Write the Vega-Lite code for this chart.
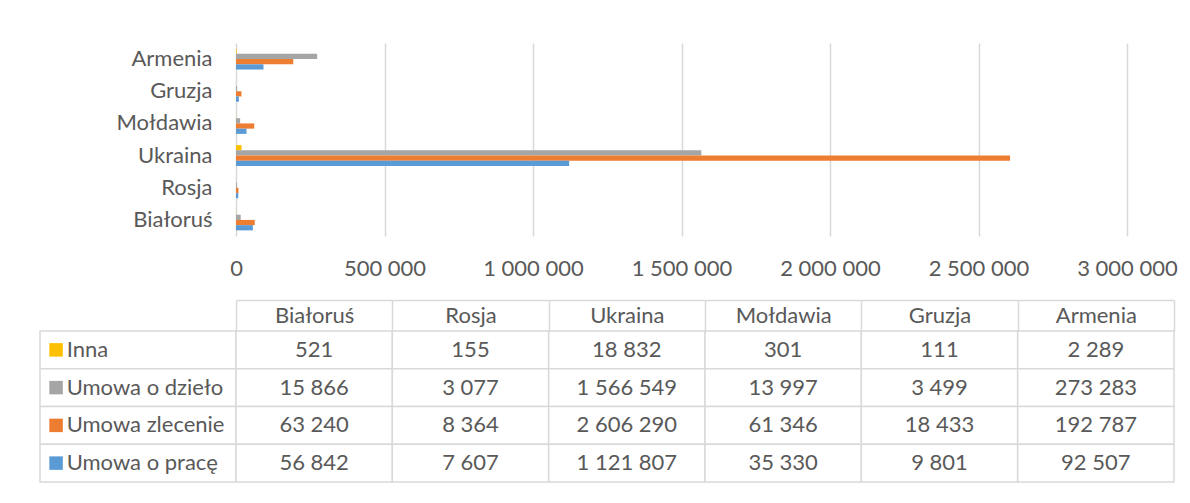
{
  "$schema": "https://vega.github.io/schema/vega-lite/v6.json",
  "padding": {"left": 39, "top": 43, "right": 10, "bottom": 10},
  "background": "white",
  "datasets": {
    "dane": [
      {"kraj": "Białoruś", "typ": "Inna", "liczba": 521},
      {"kraj": "Białoruś", "typ": "Umowa o dzieło", "liczba": 15866},
      {"kraj": "Białoruś", "typ": "Umowa zlecenie", "liczba": 63240},
      {"kraj": "Białoruś", "typ": "Umowa o pracę", "liczba": 56842},
      {"kraj": "Rosja", "typ": "Inna", "liczba": 155},
      {"kraj": "Rosja", "typ": "Umowa o dzieło", "liczba": 3077},
      {"kraj": "Rosja", "typ": "Umowa zlecenie", "liczba": 8364},
      {"kraj": "Rosja", "typ": "Umowa o pracę", "liczba": 7607},
      {"kraj": "Ukraina", "typ": "Inna", "liczba": 18832},
      {"kraj": "Ukraina", "typ": "Umowa o dzieło", "liczba": 1566549},
      {"kraj": "Ukraina", "typ": "Umowa zlecenie", "liczba": 2606290},
      {"kraj": "Ukraina", "typ": "Umowa o pracę", "liczba": 1121807},
      {"kraj": "Mołdawia", "typ": "Inna", "liczba": 301},
      {"kraj": "Mołdawia", "typ": "Umowa o dzieło", "liczba": 13997},
      {"kraj": "Mołdawia", "typ": "Umowa zlecenie", "liczba": 61346},
      {"kraj": "Mołdawia", "typ": "Umowa o pracę", "liczba": 35330},
      {"kraj": "Gruzja", "typ": "Inna", "liczba": 111},
      {"kraj": "Gruzja", "typ": "Umowa o dzieło", "liczba": 3499},
      {"kraj": "Gruzja", "typ": "Umowa zlecenie", "liczba": 18433},
      {"kraj": "Gruzja", "typ": "Umowa o pracę", "liczba": 9801},
      {"kraj": "Armenia", "typ": "Inna", "liczba": 2289},
      {"kraj": "Armenia", "typ": "Umowa o dzieło", "liczba": 273283},
      {"kraj": "Armenia", "typ": "Umowa zlecenie", "liczba": 192787},
      {"kraj": "Armenia", "typ": "Umowa o pracę", "liczba": 92507}
    ]
  },
  "columns": 2,
  "spacing": {"row": 95, "column": 0},
  "bounds": "flush",
  "align": "each",
  "concat": [
    {"data": {"values": [{}]}, "mark": {"type": "point", "opacity": 0}, "width": 196, "height": 193},
    {
      "data": {"name": "dane"},
      "width": 891,
      "height": 193,
      "mark": {"type": "bar"},
      "encoding": {
        "y": {
          "field": "kraj", "type": "nominal",
          "scale": {"domain": ["Armenia", "Gruzja", "Mołdawia", "Ukraina", "Rosja", "Białoruś"], "paddingInner": 0.35, "paddingOuter": 0.175},
          "axis": {"title": null, "domain": false, "ticks": false, "labelPadding": 24, "labelFontSize": 22, "labelColor": "#595959"}
        },
        "yOffset": {
          "field": "typ", "type": "nominal",
          "scale": {"domain": ["Inna", "Umowa o dzieło", "Umowa zlecenie", "Umowa o pracę"], "paddingInner": 0, "paddingOuter": 0}
        },
        "x": {
          "field": "liczba", "type": "quantitative",
          "scale": {"domain": [0, 3000000], "nice": false},
          "axis": {"title": null, "values": [0, 500000, 1000000, 1500000, 2000000, 2500000, 3000000], "format": ",d", "domain": false, "ticks": false, "grid": true, "gridColor": "#d9d9d9", "gridWidth": 1.5, "labelPadding": 22, "labelFontSize": 22, "labelColor": "#595959", "labelFlush": false, "labelOverlap": false}
        },
        "color": {
          "field": "typ", "type": "nominal",
          "scale": {"domain": ["Inna", "Umowa o dzieło", "Umowa zlecenie", "Umowa o pracę"], "range": ["#FFC000", "#A5A5A5", "#ED7D31", "#5B9BD5"]},
          "legend": null
        }
      }
    },
    {
      "data": {"name": "dane"},
      "transform": [{"filter": "datum.kraj === 'Białoruś'"}],
      "width": 196,
      "height": 151,
      "encoding": {
        "y": {"field": "typ", "type": "nominal", "scale": {"type": "band", "domain": ["Inna", "Umowa o dzieło", "Umowa zlecenie", "Umowa o pracę"], "paddingInner": 0, "paddingOuter": 0}, "axis": null},
        "x": {"field": "kraj", "type": "nominal", "scale": {"type": "band", "paddingInner": 0, "paddingOuter": 0}, "axis": null}
      },
      "layer": [
        {"mark": {"type": "rect", "fill": "white", "stroke": "#d9d9d9", "strokeWidth": 1.5}},
        {
          "mark": {"type": "point", "shape": "square", "filled": true, "size": 182, "opacity": 1},
          "encoding": {
            "x": {"field": "kraj", "type": "nominal", "bandPosition": 0.082},
            "color": {"field": "typ", "type": "nominal", "scale": {"domain": ["Inna", "Umowa o dzieło", "Umowa zlecenie", "Umowa o pracę"], "range": ["#FFC000", "#A5A5A5", "#ED7D31", "#5B9BD5"]}, "legend": null}
          }
        },
        {
          "mark": {"type": "text", "align": "left", "fontSize": 22, "color": "#595959"},
          "encoding": {
            "x": {"field": "kraj", "type": "nominal", "bandPosition": 0.136},
            "text": {"field": "typ", "type": "nominal"}
          }
        }
      ]
    },
    {
      "data": {"name": "dane"},
      "width": 938,
      "height": 151,
      "encoding": {
        "x": {
          "field": "kraj", "type": "nominal",
          "scale": {"type": "band", "domain": ["Białoruś", "Rosja", "Ukraina", "Mołdawia", "Gruzja", "Armenia"], "paddingInner": 0, "paddingOuter": 0},
          "axis": {"orient": "top", "title": null, "offset": 31, "domain": true, "domainColor": "#d9d9d9", "domainWidth": 1.5, "ticks": true, "tickBand": "extent", "tickSize": -31, "tickColor": "#d9d9d9", "tickWidth": 1.5, "labelPadding": 15.5, "labelBaseline": "middle", "labelAlign": "center", "labelAngle": 0, "labelFontSize": 22, "labelColor": "#595959"}
        },
        "y": {"field": "typ", "type": "nominal", "scale": {"type": "band", "domain": ["Inna", "Umowa o dzieło", "Umowa zlecenie", "Umowa o pracę"], "paddingInner": 0, "paddingOuter": 0}, "axis": null}
      },
      "layer": [
        {"mark": {"type": "rect", "fill": "white", "stroke": "#d9d9d9", "strokeWidth": 1.5}},
        {"mark": {"type": "text", "fontSize": 22, "color": "#595959"}, "encoding": {"text": {"field": "liczba", "type": "quantitative", "format": ",d"}}}
      ]
    }
  ],
  "config": {
    "view": {"stroke": null},
    "font": "Lato",
    "locale": {"number": {"decimal": ",", "thousands": " ", "grouping": [3], "currency": ["", " zł"]}}
  }
}
